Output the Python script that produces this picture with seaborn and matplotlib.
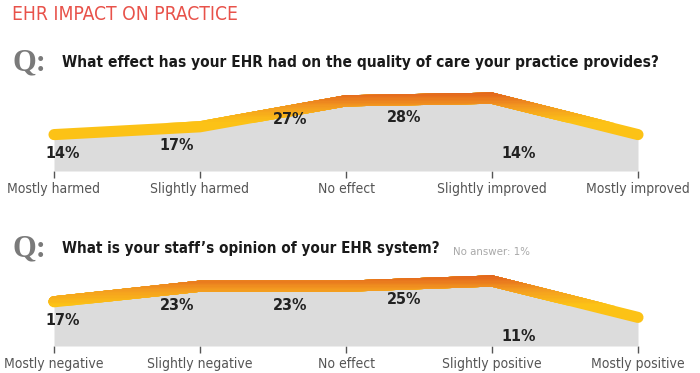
import numpy as np
import matplotlib
matplotlib.use("Agg")
import matplotlib.pyplot as plt
import seaborn as sns
from matplotlib import font_manager as fm
from matplotlib.colors import LinearSegmentedColormap
from matplotlib.patches import Rectangle

# data
title = "EHR IMPACT ON PRACTICE"
q1_text = "What effect has your EHR had on the quality of care your practice provides?"
q1_cats = ["Mostly harmed", "Slightly harmed", "No effect", "Slightly improved", "Mostly improved"]
q1_vals = [14, 17, 27, 28, 14]
q2_text = "What is your staff\u2019s opinion of your EHR system?"
q2_note = "No answer: 1%"
q2_cats = ["Mostly negative", "Slightly negative", "No effect", "Slightly positive", "Mostly positive"]
q2_vals = [17, 23, 23, 25, 11]

sns.set_style("white")

# look for a narrow / condensed sans, else Liberation Sans (arial-ish)
narrow_faces = [f for f in fm.fontManager.ttflist
                if ("Narrow" in f.name or "Condensed" in f.name
                    or f.stretch in ("condensed", "semi-condensed", "extra-condensed"))
                and "Mono" not in f.name and "Serif" not in f.name]
names = {f.name for f in fm.fontManager.ttflist}
if narrow_faces:
    sans = narrow_faces[0].name
    stretch = narrow_faces[0].stretch
else:
    sans = "Liberation Sans" if "Liberation Sans" in names else "DejaVu Sans"
    stretch = "normal"
serif = "Liberation Serif" if "Liberation Serif" in names else "DejaVu Serif"
plt.rcParams["font.family"] = [sans, "DejaVu Sans"]

W, H = 700, 373
fig = plt.figure(figsize=(W / 100, H / 100), dpi=100)
fig.patch.set_facecolor("white")

grad = LinearSegmentedColormap.from_list("ehr", ["#fcc216", "#f39a20", "#e05c1c"])
YELLOW = "#fcc216"
FILL = "#dcdcdc"


def px(x, y):
    return x / W, 1 - y / H


def fit(txt, target):
    fig.canvas.draw()
    w = txt.get_window_extent().width
    txt.set_fontsize(txt.get_fontsize() * target / w)


def panel(top_q, zero_y, question, q_right, cats, vals):
    # "Q:" and the question
    fig.text(*px(12, top_q + 1), "Q:", family=serif, weight="bold", fontsize=22,
             color="#7a7a7a", ha="left", va="center")
    qt = fig.text(*px(62, top_q), question, weight="bold", fontsize=18,
                  color="#1a1a1a", ha="left", va="center", fontstretch=stretch)
    fit(qt, q_right - 62)

    # category 0..4 at px 54..638, 2.6 px per percent
    step = 146
    x0 = 54 - 0.3 * step
    x1 = 638 + 0.3 * step
    ax_h = 91
    l, b = px(x0, zero_y)
    ax = fig.add_axes([l, b, (x1 - x0) / W, ax_h / H])
    ax.set_xlim(-0.3, 4.3)
    ax.set_ylim(0, ax_h / 2.6)
    ax.patch.set_alpha(0)

    xs = np.arange(len(vals))
    ax.fill_between(xs, 0, vals, color=FILL, lw=0, zorder=1)
    sns.lineplot(x=xs, y=vals, ax=ax, color=YELLOW, lw=8, solid_capstyle="round",
                 solid_joinstyle="miter", zorder=2)

    # vertical colour gradient on the stroke: stacked clipped copies
    top = max(vals)
    lo, hi = top - 9.5, top + 2.5
    n = 24
    for i, t in enumerate(np.linspace(lo, hi, n)):
        ln, = ax.plot(xs, vals, color=grad(i / (n - 1)), lw=8, solid_capstyle="round",
                      solid_joinstyle="miter", zorder=3)
        ln.set_clip_path(Rectangle((-1, t), 6, 100, transform=ax.transData))

    for i, v in enumerate(vals):
        ax.text(i * 0.78 + 0.06, v - 7.3, f"{v}%", ha="center", va="center",
                fontsize=11.5, weight="bold", color="#222222", zorder=4,
                fontstretch=stretch)

    ax.set_yticks([])
    ax.set_xticks(xs)
    ax.set_xticklabels(cats, fontsize=10, color="#555555", fontstretch=stretch)
    ax.tick_params(axis="x", direction="out", length=5, width=1, color="#555555",
                   pad=3, bottom=True)
    for s in ax.spines.values():
        s.set_visible(False)
    if ax.get_legend():
        ax.get_legend().remove()
    return ax


t = fig.text(*px(12, 15), title, fontsize=13, color="#e8524a", ha="left", va="center",
             fontstretch=stretch)
fit(t, 225)

panel(62, 171, q1_text, 658, q1_cats, q1_vals)
panel(248, 346, q2_text, 440, q2_cats, q2_vals)

nt = fig.text(*px(453, 252), q2_note, fontsize=9, color="#a8a8a8", ha="left", va="center",
              fontstretch=stretch)
fit(nt, 77)

fig.savefig("out.png", dpi=100, facecolor="white")
